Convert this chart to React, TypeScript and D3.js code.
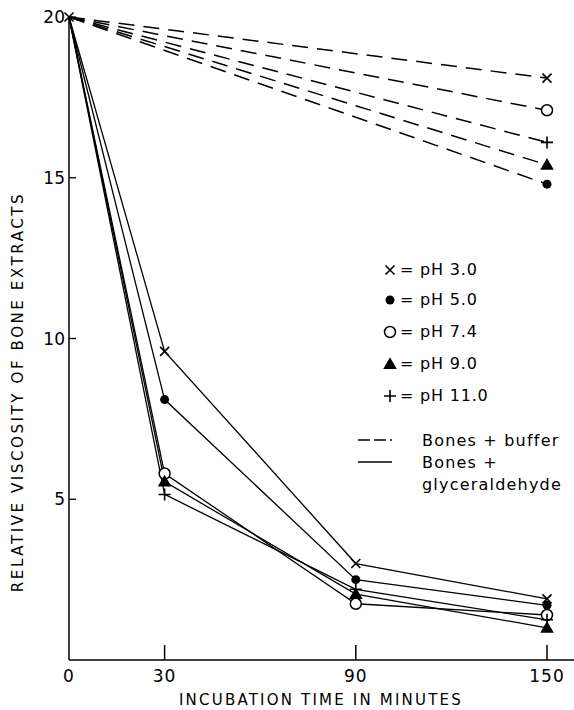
import React from "react";
import * as d3 from "d3";

const times = [0, 30, 90, 150];
const seriesNames = ["pH 3.0", "pH 5.0", "pH 7.4", "pH 9.0", "pH 11.0"];
const markerTypes = ["x", "dot", "circle", "triangle", "plus"];
// Bones + glyceraldehyde (solid) values at 0, 30, 90, 150 min
const glyValues = [
  [20, 9.6, 3.0, 1.9],
  [20, 8.1, 2.5, 1.7],
  [20, 5.8, 1.75, 1.4],
  [20, 5.55, 2.05, 1.0],
  [20, 5.15, 2.2, 1.25],
];
// Bones + buffer (dashed) values at 0 and 150 min
const bufTimes = [0, 150];
const bufValues = [
  [20, 18.1],
  [20, 14.8],
  [20, 17.1],
  [20, 15.4],
  [20, 16.1],
];
const xTicks = [0, 30, 90, 150];
const yTicks = [5, 10, 15, 20];

const W = 574, H = 710;
const x = d3.scaleLinear().domain([0, 150]).range([69, 547]);
const y = d3.scaleLinear().domain([0, 20]).range([660, 17]);
const FONT = "'DejaVu Sans', sans-serif";

function Marker({ type, cx, cy }: { type: string; cx: number; cy: number }) {
  const s = 4.5;
  if (type === "x")
    return (
      <path d={`M${cx - s},${cy - s}L${cx + s},${cy + s}M${cx - s},${cy + s}L${cx + s},${cy - s}`} stroke="#000" strokeWidth={1.6} fill="none" />
    );
  if (type === "plus")
    return (
      <path d={`M${cx - 6},${cy}L${cx + 6},${cy}M${cx},${cy - 6}L${cx},${cy + 6}`} stroke="#000" strokeWidth={1.6} fill="none" />
    );
  if (type === "dot") return <circle cx={cx} cy={cy} r={4.5} fill="#000" />;
  if (type === "circle") return <circle cx={cx} cy={cy} r={5.5} fill="#fff" stroke="#000" strokeWidth={1.5} />;
  const tri = d3.symbol().type(d3.symbolTriangle).size(80)();
  return <path d={tri || ""} transform={`translate(${cx},${cy + 1})`} fill="#000" />;
}

export default function App() {
  const line = d3
    .line<[number, number]>()
    .x((d) => x(d[0]))
    .y((d) => y(d[1]));
  const legendRows = [275, 305, 337, 369, 401];
  return (
    <svg width={W} height={H} style={{ position: "absolute", left: 0, top: 0, background: "#fff" }} fontFamily={FONT}>
      <rect width={W} height={H} fill="#fff" />
      {/* axes */}
      <line x1={69} y1={17} x2={69} y2={660} stroke="#000" strokeWidth={1.5} />
      <line x1={69} y1={660} x2={574} y2={660} stroke="#000" strokeWidth={1.5} />
      {xTicks.slice(1).map((t) => (
        <line key={t} x1={x(t)} x2={x(t)} y1={660} y2={645} stroke="#000" strokeWidth={1.5} />
      ))}
      {xTicks.map((t) => (
        <text key={t} x={x(t)} y={682} textAnchor="middle" fontSize={17} letterSpacing={1}>
          {t}
        </text>
      ))}
      {yTicks.map((t) => (
        <g key={t}>
          <line x1={69} x2={76} y1={y(t)} y2={y(t)} stroke="#000" strokeWidth={1.3} />
          <text x={65} y={y(t) + 6} textAnchor="end" fontSize={17}>
            {t}
          </text>
        </g>
      ))}
      <text x={321} y={705} textAnchor="middle" fontSize={15} letterSpacing={2.2}>
        INCUBATION TIME IN MINUTES
      </text>
      <text transform="translate(23,392) rotate(-90)" textAnchor="middle" fontSize={15} letterSpacing={2.6}>
        RELATIVE VISCOSITY OF BONE EXTRACTS
      </text>
      {/* buffer dashed lines */}
      {bufValues.map((vals, i) => (
        <path
          key={"b" + i}
          d={line(bufTimes.map((t, j) => [t, vals[j]] as [number, number])) || ""}
          fill="none"
          stroke="#000"
          strokeWidth={1.5}
          strokeDasharray="16,9"
        />
      ))}
      {/* glyceraldehyde solid lines */}
      {glyValues.map((vals, i) => (
        <path
          key={"g" + i}
          d={line(times.map((t, j) => [t, vals[j]] as [number, number])) || ""}
          fill="none"
          stroke="#000"
          strokeWidth={1.3}
        />
      ))}
      {/* markers */}
      {bufValues.map((vals, i) => (
        <Marker key={"bm" + i} type={markerTypes[i]} cx={x(150)} cy={y(vals[1])} />
      ))}
      {glyValues.map((vals, i) =>
        times.slice(1).map((t, j) => (
          <Marker key={"gm" + i + "-" + j} type={markerTypes[i]} cx={x(t)} cy={y(vals[j + 1])} />
        ))
      )}
      <Marker type="x" cx={x(0)} cy={y(20)} />
      {/* legend */}
      {seriesNames.map((n, i) => (
        <g key={n}>
          <Marker type={markerTypes[i]} cx={390} cy={legendRows[i] - 5} />
          <text x={400} y={legendRows[i]} fontSize={16} letterSpacing={0.8}>
            = pH {n.replace("pH ", "")}
          </text>
        </g>
      ))}
      <line x1={358} x2={392} y1={440} y2={440} stroke="#000" strokeWidth={1.3} strokeDasharray="12,4" />
      <text x={422} y={446} fontSize={16} letterSpacing={1.2}>Bones + buffer</text>
      <line x1={358} x2={392} y1={462} y2={462} stroke="#000" strokeWidth={1.3} />
      <text x={422} y={468} fontSize={16} letterSpacing={1.2}>Bones +</text>
      <text x={422} y={490} fontSize={16} letterSpacing={1.2}>glyceraldehyde</text>
    </svg>
  );
}
